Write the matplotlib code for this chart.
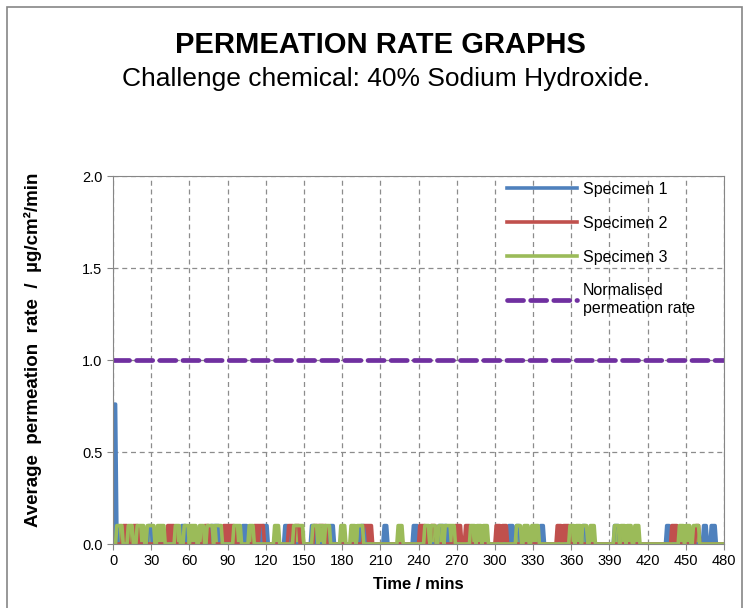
import numpy as np
import matplotlib.pyplot as plt
from matplotlib.patches import Rectangle

plt.rcParams['font.family'] = ['Liberation Sans', 'DejaVu Sans']

# minutes 0..480, readings once a minute
minutes = np.arange(0, 481)
pulse_level = 0.1

# (start, end) minute pairs: reading is 0.1 between them, 0 at both ends
spec1_pulses = [(27, 31), (53, 58), (76, 80), (79, 84), (101, 106), (117, 122),
                (134, 138), (155, 159), (170, 174), (194, 198), (212, 216),
                (235, 240), (255, 260), (259, 263), (310, 315), (316, 320),
                (335, 339), (368, 372), (393, 398), (434, 438), (463, 467),
                (469, 474)]
spec1_spike_t = [1, 2, 3]
spec1_spike_v = [0.76, 0.76, 0.1]

spec2_pulses = [(7, 12), (15, 20), (42, 49), (71, 76), (86, 91), (90, 96),
                (110, 115), (114, 119), (137, 142), (142, 147), (157, 164),
                (163, 168), (196, 201), (199, 204), (240, 246), (249, 254),
                (268, 274), (276, 281), (300, 305), (305, 310), (348, 353),
                (353, 359), (438, 444), (457, 461)]

spec3_pulses = [(2, 8), (11, 16), (18, 25), (26, 33), (34, 41), (48, 53),
                (55, 60), (60, 66), (67, 72), (73, 79), (79, 86), (94, 101),
                (106, 111), (126, 131), (141, 146), (145, 150), (156, 161),
                (161, 166), (166, 171), (178, 183), (186, 191), (191, 197),
                (223, 228), (244, 249), (249, 254), (255, 260), (260, 265),
                (264, 269), (280, 285), (285, 290), (290, 295), (316, 321),
                (322, 327), (328, 335), (358, 363), (363, 368), (368, 373),
                (374, 379), (393, 398), (398, 403), (403, 408), (409, 414),
                (444, 449), (449, 454), (455, 461)]

normalised_rate = 1.0


def build(pulses):
    vals = np.zeros(len(minutes))
    for a, b in pulses:
        vals[(minutes > a) & (minutes < b)] = pulse_level
    return vals


spec1 = build(spec1_pulses)
spec1[spec1_spike_t] = spec1_spike_v
spec2 = build(spec2_pulses)
spec3 = build(spec3_pulses)

fig = plt.figure(figsize=(7.5, 6.08), dpi=100)
fig.patches.append(Rectangle((7 / 750, -0.1), 735 / 750, 1.1 - 7 / 608,
                             transform=fig.transFigure, fill=False,
                             edgecolor='#868686', linewidth=1.2))

ax = fig.add_axes([113 / 750, 1 - 544 / 608, 611 / 750, 368 / 608])

series = [(spec1, '#4F81BD', 'Specimen 1'),
          (spec2, '#C0504D', 'Specimen 2'),
          (spec3, '#9BBB59', 'Specimen 3')]
for vals, col, lab in series:
    ax.fill_between(minutes, 0, np.minimum(vals, pulse_level), color=col,
                    linewidth=0)
    ax.plot(minutes, vals, color=col, lw=2.6, label=lab)
ax.plot([0, 480], [normalised_rate, normalised_rate], color='#7030A0', lw=3.4,
        dashes=(3.4, 1.5), dash_capstyle='round',
        label='Normalised\npermeation rate')

ax.set_xlim(0, 480)
ax.set_ylim(0, 2.0)
ax.set_xticks(np.arange(0, 481, 30))
ax.set_yticks(np.arange(0, 2.01, 0.5))
ax.set_yticklabels(['0.0', '0.5', '1.0', '1.5', '2.0'])
ax.grid(True, color='#8c8c8c', linestyle=(0, (4, 3)), linewidth=0.9)
ax.set_axisbelow(True)
for s in ax.spines.values():
    s.set_color('#868686')
ax.tick_params(colors='#868686', labelcolor='black', labelsize=10.5, length=4)

ax.set_xlabel('Time / mins', fontsize=12, fontweight='bold', labelpad=6)
ax.set_ylabel('Average  permeation  rate  /  µg/cm²/min', fontsize=13.5,
              fontweight='bold')
ax.yaxis.set_label_coords(-0.116, 0.527)

leg = ax.legend(loc='upper left', bbox_to_anchor=(0.645, 0.984), frameon=False,
                fontsize=11.5, handlelength=4.4, handletextpad=0.35,
                labelspacing=1.18, borderpad=0, borderaxespad=0)

fig.text(0.507, 1 - 45 / 608, 'PERMEATION RATE GRAPHS', ha='center',
         va='center', fontsize=21, fontweight='bold')
fig.text(0.514, 1 - 79 / 608, 'Challenge chemical: 40% Sodium Hydroxide.',
         ha='center', va='center', fontsize=19)

fig.savefig('out.png', dpi=100)
